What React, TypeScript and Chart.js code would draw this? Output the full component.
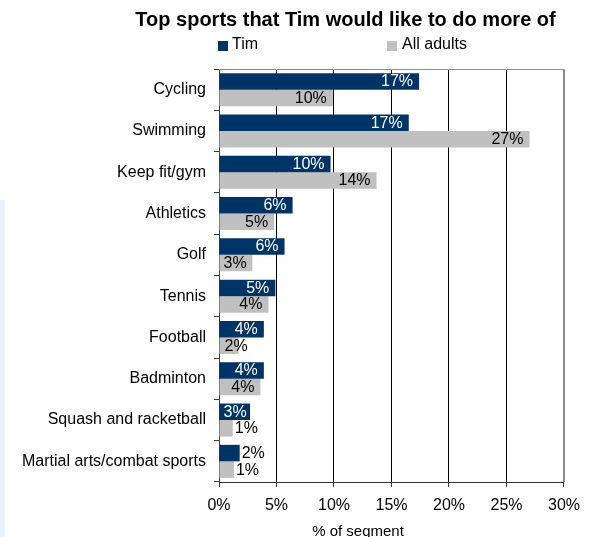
import React, { useEffect, useRef } from "react";
import { Chart, registerables } from "chart.js";

Chart.register(...registerables);

const FONT = '"Liberation Sans", Arial, Helvetica, sans-serif';

const chartTitle = "Top sports that Tim would like to do more of";
const xAxisTitle = "% of segment";
const seriesNames = ["Tim", "All adults"];
const seriesColors = ["#003366", "#C0C0C0"];

const categories = [
  "Cycling",
  "Swimming",
  "Keep fit/gym",
  "Athletics",
  "Golf",
  "Tennis",
  "Football",
  "Badminton",
  "Squash and racketball",
  "Martial arts/combat sports",
];

const timValues = [17.4, 16.5, 9.7, 6.4, 5.7, 4.9, 3.9, 3.9, 2.7, 1.8];
const adultValues = [9.9, 27.0, 13.7, 4.8, 2.9, 4.3, 1.7, 3.6, 1.2, 1.3];

const timLabels = ["17%", "17%", "10%", "6%", "6%", "5%", "4%", "4%", "3%", "2%"];
const adultLabels = ["10%", "27%", "14%", "5%", "3%", "4%", "2%", "4%", "1%", "1%"];

const xMin = 0;
const xMax = 30;
const xStep = 5;

const decorPlugin = {
  id: "decor",
  beforeDatasetsDraw(chart: any) {
    const { ctx, chartArea: a } = chart;
    ctx.save();
    ctx.strokeStyle = "#8c8c8c";
    ctx.lineWidth = 1;
    ctx.beginPath();
    ctx.moveTo(a.left, Math.round(a.top) + 0.5);
    ctx.lineTo(Math.round(a.right) + 0.5, Math.round(a.top) + 0.5);
    ctx.lineTo(Math.round(a.right) + 0.5, a.bottom);
    ctx.stroke();
    ctx.restore();
  },
  afterDatasetsDraw(chart: any) {
    const ctx = chart.ctx;
    ctx.save();
    ctx.font = `16px ${FONT}`;
    ctx.textBaseline = "middle";
    const sets = [
      { labels: timLabels, color: "#ffffff", fallbackInside: false },
      { labels: adultLabels, color: "#000000", fallbackInside: true },
    ];
    sets.forEach((s, di) => {
      const meta = chart.getDatasetMeta(di);
      meta.data.forEach((bar: any, i: number) => {
        const text = s.labels[i];
        const w = ctx.measureText(text).width;
        const end = bar.x;
        const base = bar.base;
        const len = end - base;
        const y = bar.y + 0.5;
        if (len >= w + 6) {
          ctx.fillStyle = s.color;
          ctx.textAlign = "right";
          ctx.fillText(text, Math.max(end - 6, base + 4 + w), y);
        } else if (s.fallbackInside && len >= w - 5) {
          ctx.fillStyle = "#000000";
          ctx.textAlign = "left";
          ctx.fillText(text, base + 5, y);
        } else {
          ctx.fillStyle = "#000000";
          ctx.textAlign = "left";
          ctx.fillText(text, end + 2, y);
        }
      });
    });
    ctx.restore();
  },
  afterDraw(chart: any) {
    const ctx = chart.ctx;
    ctx.save();
    // Title
    ctx.fillStyle = "#000000";
    ctx.font = `bold 20px ${FONT}`;
    ctx.textAlign = "center";
    ctx.textBaseline = "alphabetic";
    ctx.fillText(chartTitle, 345.5, 25.5);
    // Legend
    ctx.font = `16px ${FONT}`;
    ctx.textAlign = "left";
    ctx.fillStyle = seriesColors[0];
    ctx.fillRect(218, 41, 10, 10);
    ctx.fillStyle = "#000000";
    ctx.fillText(seriesNames[0], 232, 49);
    ctx.fillStyle = seriesColors[1];
    ctx.fillRect(387, 41, 10, 10);
    ctx.fillStyle = "#000000";
    ctx.fillText(seriesNames[1], 402, 49);
    // X axis title
    ctx.font = `15px ${FONT}`;
    ctx.textAlign = "center";
    ctx.fillText(xAxisTitle, 358, 536);
    ctx.restore();
  },
};

export default function App() {
  const canvasRef = useRef<HTMLCanvasElement | null>(null);

  useEffect(() => {
    if (!canvasRef.current) return;
    Chart.defaults.font.family = FONT;
    const chart = new Chart(canvasRef.current, {
      type: "bar",
      data: {
        labels: categories,
        datasets: [
          {
            label: seriesNames[0],
            data: timValues,
            backgroundColor: seriesColors[0],
            barPercentage: 1,
            categoryPercentage: 0.8,
          },
          {
            label: seriesNames[1],
            data: adultValues,
            backgroundColor: seriesColors[1],
            barPercentage: 1,
            categoryPercentage: 0.8,
          },
        ],
      },
      options: {
        indexAxis: "y",
        responsive: false,
        animation: false,
        layout: { padding: { top: 69, right: 25, bottom: 0, left: 0 } },
        plugins: {
          legend: { display: false },
          title: { display: false },
          tooltip: { enabled: false },
        },
        scales: {
          x: {
            type: "linear",
            min: xMin,
            max: xMax,
            afterFit: (scale: any) => {
              scale.height = 55;
            },
            ticks: {
              stepSize: xStep,
              callback: (v: any) => `${v}%`,
              color: "#000000",
              font: { size: 16, family: FONT },
              padding: 9,
              maxRotation: 0,
            },
            grid: {
              color: (c: any) =>
                c.tick && c.tick.value === xMin
                  ? "rgba(0,0,0,0)"
                  : c.tick && c.tick.value === xMax
                  ? "#8c8c8c"
                  : "#000000",
              tickColor: "#333333",
              tickLength: 5,
              lineWidth: 1,
            },
            border: { display: true, color: "#333333", width: 1 },
          },
          y: {
            type: "category",
            offset: true,
            afterFit: (scale: any) => {
              scale.width = 219;
            },
            ticks: {
              color: "#000000",
              font: { size: 16, family: FONT },
              padding: 8,
            },
            grid: {
              offset: true,
              drawOnChartArea: false,
              tickLength: 5,
              tickColor: "#404040",
            },
            border: { display: true, color: "#404040", width: 1 },
          },
        },
      },
      plugins: [decorPlugin],
    } as any);
    return () => chart.destroy();
  }, []);

  return (
    <div
      style={{
        position: "fixed",
        left: 0,
        top: 0,
        width: 589,
        height: 537,
        background: "#ffffff",
        overflow: "hidden",
      }}
    >
      <canvas
        ref={canvasRef}
        width={589}
        height={537}
        style={{ width: 589, height: 537, display: "block" }}
      />
      <div
        style={{
          position: "absolute",
          left: 0,
          top: 200,
          width: 5,
          height: 337,
          background: "#E4F2FE",
        }}
      />
    </div>
  );
}
